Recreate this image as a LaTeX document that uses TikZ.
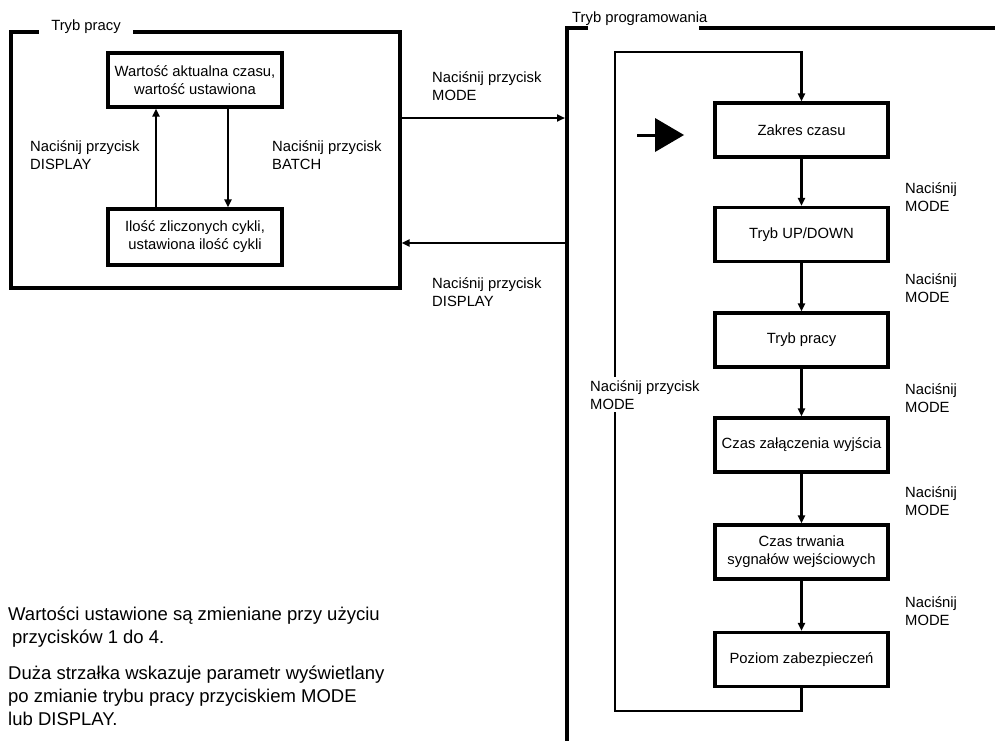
\documentclass[tikz,border=0pt]{standalone}
\usepackage{fontspec}
\setmainfont{Liberation Sans}
\usetikzlibrary{arrows.meta}

\newcommand{\lblfont}{\fontsize{14.8}{18}\selectfont}
\newcommand{\notefont}{\fontsize{18.5}{23}\selectfont}

\begin{document}
\begin{tikzpicture}[x=1pt,y=-1pt,
				frame/.style={draw=black,line width=3.2pt},
				box/.style={draw=black,line width=3.2pt,fill=white,align=center,
					font=\lblfont,inner sep=2pt,minimum width=173pt,minimum height=54pt},
				arr/.style={draw=black,line width=2.9pt,
					-{Triangle[length=8pt,width=7pt]}},
				lbl/.style={font=\lblfont,align=left,inner sep=0pt},
				note/.style={font=\notefont,align=left,inner sep=0pt}]

				\useasboundingbox (0,0) rectangle (995,742);

				%%%%%%%%%%%%%%%%  work mode  %%%%%%%%%%%%%%%%
				\node[frame,minimum width=389pt,minimum height=256pt,inner sep=0pt]
					(work) at (205.5,160) {};
				\node[lbl,fill=white,inner xsep=12.5pt,inner ysep=3pt,anchor=base]
					(worktit) at (86,30) {Tryb pracy};
				\node[box,minimum width=174pt] (cur) at (195,80)
					{Wartość aktualna czasu,\\wartość ustawiona};
				\node[box,minimum width=174pt,minimum height=56pt] (cnt) at (195,237)
					{Ilość zliczonych cykli,\\ustawiona ilość cykli};
				% switching inside the work mode
				\draw[arr] ([xshift=-39pt]cnt.north) -- ([xshift=-39pt]cur.south);
				\draw[arr] ([xshift=33pt]cur.south) -- ([xshift=33pt]cnt.north);
				\node[lbl,anchor=base west] (dispA) at (30,169) {Naciśnij przycisk\\DISPLAY};
				\node[lbl,anchor=base west] (batch) at (272,169) {Naciśnij przycisk\\BATCH};

				%%%%%%%%%%%%%%%%  programming mode  %%%%%%%%%%%%%%%%
				\draw[frame] (588,28) -- (567,28) -- (567,741);
				\draw[frame] (699,28) -- (995,28);
				\node[lbl,anchor=base west] (progtit) at (572,22) {Tryb programowania};

				% between the two modes
				\coordinate (pin) at (565,118);
				\coordinate (pout) at (567,243);
				\draw[arr] (work.east |- pin) -- (pin);
				\draw[arr] (pout) -- (work.east |- pout);
				\node[lbl,anchor=base west] (modeA) at (432,100) {Naciśnij przycisk\\MODE};
				\node[lbl,anchor=base west] (dispB) at (432,306) {Naciśnij przycisk\\DISPLAY};

				% the parameter chain
				\node[box] (zak) at (801.5,130) {Zakres czasu};
				\node[box] (updn) at (801.5,234.5) {Tryb UP/DOWN};
				\node[box] (prac) at (801.5,340) {Tryb pracy};
				\node[box] (zal) at (801.5,445) {Czas załączenia wyjścia};
				\node[box] (trw) at (801.5,552) {Czas trwania\\sygnałów wejściowych};
				\node[box] (poz) at (801.5,659.5) {Poziom zabezpieczeń};
				\foreach \a/\b in {zak/updn,updn/prac,prac/zal,zal/trw,trw/poz}
					\draw[arr] (\a) -- (\b);
				\foreach \y [count=\i] in {211,302,412,515,625}
					\node[lbl,anchor=base west] (press\i) at (905,\y) {Naciśnij\\MODE};

				% back to the first parameter
				\coordinate (lpbot) at (615,711);
				\coordinate (lptop) at (615,52);
				\draw[arr] (poz.south) |- (lpbot) -- (lptop) -| (zak.north);
				\node[lbl,anchor=base west,fill=white,inner xsep=1pt,inner ysep=3pt]
					(modeB) at (589,409) {Naciśnij przycisk\\MODE};

				% the big arrow
				\draw[line width=3pt] (637,135) -- (656,135);
				\fill (655,118) -- (684,135) -- (655,152) -- cycle;

				%%%%%%%%%%%%%%%%  notes  %%%%%%%%%%%%%%%%
				\node[note,anchor=base west] (note1) at (8,643)
					{Wartości ustawione są zmieniane przy użyciu\\\hspace*{4pt}przycisków 1 do 4.};
				\node[note,anchor=base west] (note2) at (8,725)
					{Duża strzałka wskazuje parametr wyświetlany\\po zmianie trybu pracy przyciskiem MODE\\lub DISPLAY.};
			\end{tikzpicture}
\end{document}
